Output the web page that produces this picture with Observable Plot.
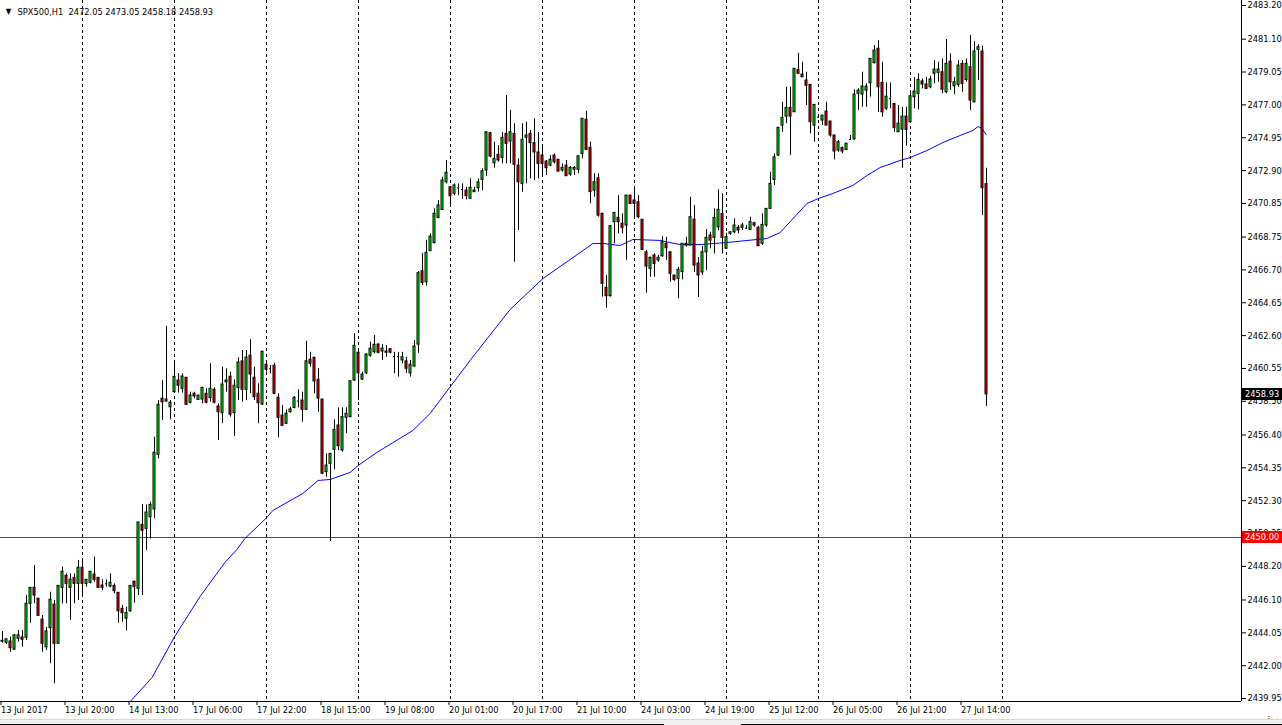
<!DOCTYPE html>
<html>
<head>
<meta charset="utf-8">
<script src="https://cdn.jsdelivr.net/npm/d3@7"></script>
<script src="https://cdn.jsdelivr.net/npm/@observablehq/plot@0.6"></script>
<style>
  html, body { margin: 0; padding: 0; background: #fff; }
  #chart { position: relative; width: 1282px; height: 725px; overflow: hidden; }
</style>
</head>
<body>
<div id="chart"></div>
<script>
const symbolTitle = "SPX500,H1";
const headerOHLC = ["2472.05", "2473.05", "2458.18", "2458.93"];

const opens = [2443.55,2443.43,2443.51,2443.00,2443.68,2443.76,2443.74,2445.86,2446.86,2446.18,2444.87,2443.15,2444.34,2445.82,2443.37,2446.86,2447.61,2446.86,2447.48,2447.11,2448.11,2447.11,2447.17,2447.69,2447.48,2447.00,2447.11,2446.94,2446.98,2446.55,2445.55,2444.93,2445.40,2447.24,2446.80,2450.79,2450.54,2451.27,2451.75,2455.16,2458.66,2458.49,2458.13,2459.07,2459.80,2459.28,2459.97,2458.41,2458.97,2458.59,2458.61,2458.97,2458.70,2459.22,2458.18,2457.76,2459.69,2460.03,2457.76,2459.32,2460.99,2459.22,2461.34,2459.97,2458.97,2458.30,2460.78,2460.53,2460.72,2458.72,2457.61,2457.10,2457.82,2458.09,2458.51,2458.55,2457.97,2461.09,2461.22,2459.84,2458.61,2454.08,2454.60,2455.47,2456.99,2455.43,2457.47,2457.51,2459.80,2461.53,2459.86,2460.25,2461.34,2461.56,2462.04,2461.61,2461.61,2461.75,2461.30,2461.30,2461.05,2460.99,2460.25,2460.67,2462.04,2466.62,2465.93,2467.87,2468.37,2469.95,2470.45,2472.17,2471.86,2471.45,2471.82,2471.72,2471.65,2471.14,2471.55,2471.80,2472.32,2472.90,2475.23,2473.36,2473.88,2473.69,2475.19,2474.71,2475.19,2473.21,2472.07,2474.94,2475.19,2474.61,2474.03,2473.84,2473.46,2473.21,2473.84,2473.57,2472.90,2473.21,2472.65,2472.95,2472.95,2473.94,2476.07,2474.32,2471.65,2472.42,2470.20,2465.58,2465.06,2469.68,2469.95,2469.58,2469.47,2471.34,2471.03,2470.92,2469.83,2467.80,2466.77,2467.60,2467.29,2467.55,2468.33,2467.80,2466.35,2466.14,2466.56,2468.33,2468.22,2469.83,2467.10,2466.54,2467.80,2468.85,2468.70,2469.36,2470.20,2468.02,2468.95,2469.05,2469.33,2469.33,2469.33,2469.20,2469.61,2469.33,2468.33,2469.47,2470.51,2472.32,2473.84,2475.71,2476.27,2476.81,2476.54,2479.19,2478.89,2478.52,2478.25,2475.71,2476.23,2476.02,2476.58,2475.96,2475.09,2474.15,2474.32,2474.19,2474.84,2474.84,2477.69,2477.64,2477.89,2478.35,2479.60,2480.50,2478.37,2476.75,2477.39,2477.06,2475.29,2475.46,2476.27,2475.92,2477.48,2477.69,2478.46,2478.27,2478.10,2478.94,2479.00,2479.04,2477.79,2479.70,2478.16,2478.25,2479.56,2478.56,2479.35,2477.16,2480.43,2480.33,2472.05];
const highs = [2444.13,2443.70,2443.78,2443.95,2444.20,2444.20,2446.38,2446.86,2448.25,2446.19,2445.13,2444.40,2446.59,2446.07,2446.98,2448.15,2447.73,2447.73,2447.73,2448.57,2448.61,2447.36,2447.86,2448.78,2447.48,2447.36,2447.36,2447.73,2447.11,2446.55,2445.76,2445.65,2446.98,2447.27,2450.94,2452.04,2452.04,2452.20,2456.26,2458.55,2459.80,2463.17,2458.55,2461.05,2460.22,2460.22,2459.97,2459.07,2459.07,2458.86,2459.34,2459.28,2460.84,2459.34,2458.34,2460.63,2460.53,2460.32,2459.84,2461.22,2461.67,2461.67,2462.34,2460.63,2459.59,2461.63,2461.05,2460.73,2460.88,2458.97,2458.24,2457.97,2458.13,2458.80,2459.22,2459.07,2462.25,2461.56,2461.22,2460.53,2458.61,2455.22,2455.22,2457.34,2458.09,2458.09,2458.09,2459.75,2462.71,2461.67,2460.32,2461.46,2462.19,2462.61,2462.09,2462.04,2461.98,2461.78,2461.56,2461.56,2461.56,2461.25,2461.05,2462.30,2466.60,2467.74,2468.54,2468.95,2470.51,2471.03,2472.48,2473.53,2471.90,2472.07,2472.07,2472.07,2471.86,2472.38,2471.86,2472.38,2473.01,2475.29,2475.29,2474.67,2474.46,2475.29,2477.58,2476.65,2475.82,2473.63,2475.82,2475.92,2475.40,2476.13,2475.29,2474.46,2473.53,2473.84,2473.94,2473.57,2473.32,2473.53,2473.15,2473.15,2473.84,2476.13,2476.60,2474.67,2472.70,2472.70,2470.24,2466.35,2469.43,2470.26,2471.34,2470.20,2471.34,2471.34,2471.86,2471.34,2469.83,2467.91,2467.49,2467.70,2467.60,2468.78,2468.74,2467.80,2466.35,2466.87,2468.33,2468.74,2471.24,2470.72,2467.47,2468.16,2469.22,2469.05,2470.51,2471.70,2471.45,2468.99,2469.05,2469.89,2469.47,2469.61,2469.47,2469.99,2469.68,2469.41,2470.20,2470.51,2472.80,2473.94,2475.57,2477.16,2478.10,2478.10,2479.25,2480.22,2479.66,2479.04,2478.25,2477.00,2476.30,2476.33,2477.16,2475.96,2475.09,2474.78,2474.36,2474.61,2475.09,2477.94,2478.00,2479.04,2478.31,2479.87,2480.70,2481.01,2479.66,2478.37,2478.37,2477.06,2476.96,2476.85,2476.85,2477.79,2478.72,2478.94,2478.62,2478.72,2478.79,2479.77,2479.66,2479.87,2481.08,2480.18,2478.72,2479.77,2479.77,2479.87,2481.33,2480.95,2480.75,2480.66,2473.05];
const lows = [2443.39,2443.33,2442.84,2442.95,2443.47,2443.15,2443.57,2444.65,2445.86,2445.07,2442.84,2442.95,2442.12,2440.87,2443.37,2445.86,2445.86,2444.82,2445.86,2446.07,2446.38,2446.90,2447.11,2447.21,2446.86,2446.69,2446.90,2446.86,2446.49,2444.65,2444.71,2444.16,2445.34,2445.90,2446.38,2446.38,2449.19,2449.92,2451.17,2454.91,2457.30,2458.42,2457.34,2459.07,2459.01,2459.01,2458.24,2458.34,2458.66,2458.59,2458.34,2458.34,2458.44,2458.34,2456.05,2457.10,2459.07,2457.51,2456.30,2458.55,2458.44,2458.55,2458.97,2458.55,2457.10,2458.24,2460.32,2460.22,2458.91,2456.22,2456.93,2457.05,2457.76,2458.03,2458.09,2457.20,2457.93,2460.63,2458.97,2457.82,2453.93,2453.76,2449.75,2454.23,2455.43,2455.33,2456.47,2457.47,2459.74,2458.55,2459.80,2460.17,2461.25,2461.46,2461.46,2461.05,2461.25,2461.46,2460.22,2460.01,2460.84,2460.22,2460.01,2460.63,2461.50,2465.73,2465.69,2467.87,2468.33,2469.89,2470.41,2472.07,2470.66,2471.34,2471.34,2471.09,2471.07,2471.09,2471.55,2471.55,2471.65,2472.53,2473.69,2473.05,2473.42,2473.32,2473.32,2473.32,2467.18,2469.16,2471.55,2472.07,2472.38,2472.28,2472.38,2472.59,2472.59,2473.15,2473.32,2472.80,2472.80,2472.55,2472.55,2472.59,2472.70,2473.63,2474.15,2470.82,2471.24,2469.99,2465.00,2464.31,2465.00,2468.33,2468.95,2468.95,2467.29,2470.78,2469.99,2469.89,2467.91,2465.25,2466.24,2466.24,2467.18,2467.49,2467.29,2465.93,2465.99,2464.90,2466.08,2468.12,2468.22,2466.54,2464.98,2466.35,2466.66,2468.02,2467.70,2469.16,2467.70,2468.02,2468.85,2468.95,2468.95,2469.16,2469.22,2469.16,2469.36,2468.18,2468.22,2469.36,2470.51,2471.97,2473.78,2475.29,2475.82,2473.84,2476.54,2478.94,2478.72,2476.96,2475.19,2474.67,2476.20,2475.71,2475.71,2474.98,2473.57,2474.04,2473.94,2474.15,2474.78,2474.82,2476.65,2476.85,2476.85,2477.48,2479.56,2476.54,2476.23,2476.65,2476.75,2475.29,2475.29,2473.05,2474.42,2475.92,2476.75,2476.69,2478.00,2477.96,2478.00,2478.31,2478.41,2477.69,2477.69,2477.89,2477.64,2478.10,2477.79,2478.41,2476.65,2477.13,2478.52,2470.09,2458.18];
const closes = [2443.50,2443.64,2443.09,2443.89,2443.89,2443.62,2445.86,2446.86,2446.38,2445.11,2443.37,2444.14,2446.11,2443.37,2446.98,2447.86,2447.11,2447.36,2447.11,2448.11,2447.11,2447.36,2447.86,2447.36,2446.86,2446.86,2447.11,2447.17,2446.65,2445.40,2445.28,2445.28,2446.98,2446.90,2450.94,2450.42,2451.56,2452.04,2455.29,2458.28,2458.44,2458.61,2458.41,2460.03,2459.47,2460.05,2458.28,2458.86,2458.80,2458.86,2459.34,2458.41,2459.28,2458.41,2457.82,2459.55,2459.80,2457.66,2459.47,2460.92,2459.22,2461.23,2460.17,2458.76,2458.38,2461.59,2460.47,2460.53,2458.97,2457.47,2456.97,2457.72,2457.99,2458.72,2458.51,2457.97,2460.99,2460.84,2459.74,2458.67,2453.98,2454.49,2455.22,2456.72,2455.70,2457.51,2457.72,2459.75,2461.96,2460.25,2460.17,2461.42,2461.78,2462.03,2461.53,2461.78,2461.53,2461.53,2461.30,2461.28,2461.25,2460.53,2460.78,2461.92,2466.49,2465.89,2467.77,2468.78,2470.20,2470.72,2472.28,2472.76,2471.30,2471.97,2471.82,2471.72,2471.30,2471.82,2471.65,2472.17,2472.86,2475.29,2473.78,2473.63,2473.53,2474.94,2474.57,2475.29,2473.26,2472.17,2474.82,2475.09,2474.61,2474.03,2473.32,2473.32,2473.05,2473.57,2473.42,2472.84,2473.07,2472.55,2473.07,2473.07,2473.78,2476.13,2474.19,2471.55,2472.17,2470.09,2465.83,2465.06,2469.43,2470.26,2469.68,2469.33,2471.34,2470.82,2470.82,2469.99,2467.95,2466.91,2467.46,2467.08,2467.46,2468.43,2468.05,2466.46,2466.08,2466.71,2468.33,2468.22,2469.99,2466.97,2466.35,2467.80,2468.70,2468.53,2469.95,2470.45,2468.70,2468.74,2469.05,2469.47,2469.16,2469.47,2469.31,2469.68,2469.47,2468.18,2469.51,2470.51,2472.07,2473.73,2475.57,2476.19,2476.81,2476.27,2479.25,2478.94,2478.72,2478.19,2475.92,2477.00,2476.23,2476.33,2475.71,2475.09,2474.09,2474.67,2474.09,2474.57,2474.84,2477.64,2477.89,2478.14,2478.14,2479.87,2480.39,2478.10,2476.54,2477.52,2477.40,2475.57,2475.82,2476.27,2475.44,2477.54,2477.83,2478.56,2478.27,2478.00,2478.58,2479.20,2479.20,2477.94,2479.56,2478.41,2478.41,2479.45,2478.31,2479.56,2477.27,2480.33,2480.60,2471.80,2458.93];

// Moving average (bar position, price)
const maBar = [29.4,32.4,37.4,42.9,49.4,55.6,58.6,60.6,66.1,67.6,75.1,78.9,81.9,86.9,88.9,93.6,102.6,106.9,116.9,126.9,135.1,144.4,147.6,150.1,154.4,157.6,164.4,169.4,174.4,181.1,191.1,194.4,201.1,203.9,207.6,212.6,216.1,219.4,224.4,226.9,231.1,235.1,239.4,242.6,243.9,244.9,245.9];
const maVal = [2439.08,2439.89,2441.26,2443.76,2446.32,2448.44,2449.25,2449.94,2451.25,2451.69,2452.75,2453.56,2453.62,2454.06,2454.49,2455.31,2456.68,2457.74,2461.05,2464.23,2466.16,2467.78,2468.35,2468.35,2468.22,2468.60,2468.54,2468.28,2468.28,2468.41,2468.66,2469.03,2470.84,2471.15,2471.47,2471.97,2472.59,2473.09,2473.53,2473.71,2474.15,2474.65,2475.09,2475.40,2475.65,2475.52,2475.15];

const timeLabelBars = [0,16,32,48,64,80,96,112,128,144,160,176,192,208,224,240];
const timeLabels = ["13 Jul 2017","13 Jul 20:00","14 Jul 13:00","17 Jul 06:00","17 Jul 22:00","18 Jul 15:00","19 Jul 08:00","20 Jul 01:00","20 Jul 17:00","21 Jul 10:00","24 Jul 03:00","24 Jul 19:00","25 Jul 12:00","26 Jul 05:00","26 Jul 21:00","27 Jul 14:00"];
const gridBars = [20,43,66,89,112,135,158,181,204,227,250];
const priceTicks = [2483.20,2481.10,2479.05,2477.00,2474.95,2472.90,2470.85,2468.75,2466.70,2464.65,2462.60,2460.55,2458.50,2456.40,2454.35,2452.30,2450.25,2448.20,2446.10,2444.05,2442.00,2439.95];
const levelLine = 2450.00;
const lastPrice = 2458.93;
const xDomain = [-0.5, 309.75];
const yDomain = [2439.765, 2483.514];

const candles = opens.map((o, i) => ({i, open: o, high: highs[i], low: lows[i], close: closes[i]}));
const bodies = candles.filter(d => Math.abs(d.close - d.open) >= 0.02);
const dojis = candles.filter(d => Math.abs(d.close - d.open) < 0.02);
const ma = maBar.map((b, k) => ({i: b, p: maVal[k]}));

const font = "'DejaVu Sans Condensed', 'Liberation Sans', Arial, sans-serif";
const fs = 9.2;

const plot = Plot.plot({
  width: 1282,
  height: 725,
  marginLeft: 0,
  marginRight: 41,
  marginTop: 0,
  marginBottom: 24,
  x: {domain: xDomain, axis: null},
  y: {domain: yDomain, axis: null},
  style: {fontFamily: font, fontSize: fs + "px", background: "#fff", color: "#000"},
  marks: [
    Plot.ruleX(gridBars, {stroke: "#000", strokeDasharray: "3,3", strokeWidth: 1}),
    Plot.ruleY([levelLine], {stroke: "#ff0000", strokeWidth: 1}),
    Plot.line(ma, {x: "i", y: "p", stroke: "#0000ff", strokeWidth: 1, clip: true}),
    Plot.ruleX(candles, {x: "i", y1: "low", y2: "high", stroke: "#000", strokeWidth: 1}),
    Plot.rect(bodies, {
      x1: d => d.i - 0.25, x2: d => d.i + 0.25,
      y1: "open", y2: "close",
      fill: d => d.close >= d.open ? "#00ff00" : "#ff0000",
      stroke: "#000", strokeWidth: 1
    }),
    Plot.ruleY(dojis, {y: "close", x1: d => d.i - 0.25, x2: d => d.i + 0.25, stroke: "#000"}),
    Plot.ruleX([xDomain[1]], {stroke: "#000"}),
    Plot.ruleY([yDomain[0]], {stroke: "#000"}),
    Plot.axisY(priceTicks, {
      anchor: "right", tickFormat: d => d.toFixed(2), tickSize: 4, tickPadding: 2,
      textAnchor: "start"
    }),
    Plot.axisX(timeLabelBars, {
      anchor: "bottom", tickFormat: d => timeLabels[timeLabelBars.indexOf(d)],
      tickSize: 4, tickPadding: 1, textAnchor: "start", dx: -1.5
    }),
    Plot.text(["\u25BC"], {frameAnchor: "top-left", dx: 8, dy: 8, fontSize: 8, textAnchor: "middle"}),
    Plot.text([`${symbolTitle}  ${headerOHLC.join(" ")}`], {
      frameAnchor: "top-left", dx: 17, dy: 8, textAnchor: "start", fontSize: fs
    })
  ]
});

document.getElementById("chart").appendChild(plot);

// Price labels on the right axis, positioned with the plot's own y scale
const ys = plot.scale("y");
const svg = d3.select(plot);
function priceLabel(value, bg) {
  const y = ys.apply(value);
  const g = svg.append("g");
  g.append("rect").attr("x", 1242).attr("y", Math.round(y) - 6).attr("width", 40).attr("height", 12).attr("fill", bg);
  g.append("text").attr("x", 1245).attr("y", y).attr("dy", "0.35em")
    .attr("text-anchor", "start")
    .attr("fill", "#fff").attr("font-family", font).attr("font-size", fs + "px")
    .text(value.toFixed(2));
}
priceLabel(lastPrice, "#000");
priceLabel(levelLine, "#ff0000");

// Tab strip at the bottom of the terminal window
const strip = svg.append("g");
strip.append("rect").attr("x", 0).attr("y", 719).attr("width", 1282).attr("height", 6).attr("fill", "#f0f0f0");
strip.append("line").attr("x1", 0).attr("x2", 1282).attr("y1", 719.5).attr("y2", 719.5).attr("stroke", "#d8d8d8");
strip.append("line").attr("x1", 0).attr("x2", 664).attr("y1", 724.5).attr("y2", 724.5).attr("stroke", "#000");
strip.append("line").attr("x1", 741).attr("x2", 1282).attr("y1", 724.5).attr("y2", 724.5).attr("stroke", "#000");
</script>
</body>
</html>
